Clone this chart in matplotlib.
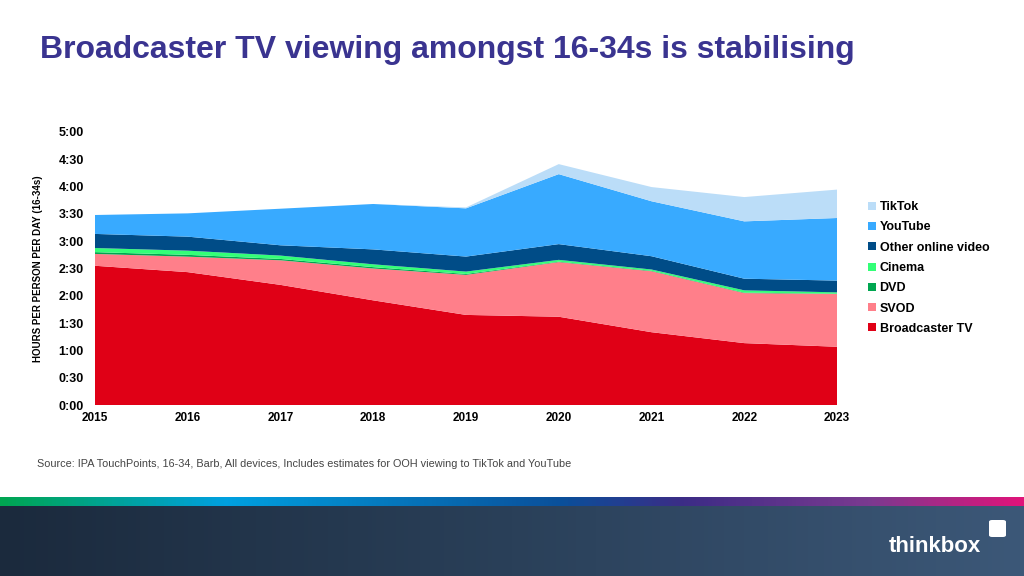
import matplotlib
matplotlib.use("Agg")
import matplotlib.pyplot as plt
import numpy as np
from matplotlib.colors import LinearSegmentedColormap
from matplotlib.patches import FancyBboxPatch

years = [2015, 2016, 2017, 2018, 2019, 2020, 2021, 2022, 2023]
broadcaster_tv = [153, 146, 132, 115, 99, 97, 80, 68, 64]
svod = [13, 17, 27, 35, 44, 60, 67, 55, 58]
dvd = [2, 2, 1.5, 1.5, 1, 0.5, 0.5, 0.5, 0.3]
cinema = [4.5, 4.6, 3.7, 3.1, 2.6, 2, 1.4, 2.5, 1.5]
other_online = [15.5, 15.4, 11.3, 16.4, 16.5, 17.3, 14.6, 12.8, 12.9]
youtube = [20.8, 25.6, 40.2, 49.9, 53, 76.9, 60.4, 63, 68.8]
tiktok = [0, 0, 0, 0, 1, 11, 15.6, 26.7, 31.2]

series_names = ["Broadcaster TV", "SVOD", "DVD", "Cinema", "Other online video", "YouTube", "TikTok"]
series_colors = ["#E00016", "#FF7F8A", "#00A650", "#33FF77", "#004C87", "#38AAFF", "#BBDDF8"]
y_ticks = list(range(0, 301, 30))
y_tick_labels = ["0:00", "0:30", "1:00", "1:30", "2:00", "2:30", "3:00", "3:30", "4:00", "4:30", "5:00"]

fig = plt.figure(figsize=(10.24, 5.76), dpi=100)
fig.patch.set_facecolor("white")

ax = fig.add_axes([95/1024, 1-405/576, (837-95)/1024, (405-132)/576])
data = [broadcaster_tv, svod, dvd, cinema, other_online, youtube, tiktok]
ax.stackplot(years, *data, colors=series_colors, labels=series_names, linewidth=0)
ax.set_xlim(2015, 2023)
ax.set_ylim(0, 300)
ax.set_xticks(years)
ax.set_xticklabels([str(y) for y in years], fontsize=8.5, fontweight="bold", family="Liberation Sans")
ax.set_yticks(y_ticks)
ax.set_yticklabels(y_tick_labels, fontsize=9, fontweight="bold", family="Liberation Sans")
for s in ["top", "right", "left", "bottom"]:
    ax.spines[s].set_visible(False)
ax.tick_params(axis="both", length=0)
ax.tick_params(axis="x", pad=5)
ax.tick_params(axis="y", pad=8)
ax.set_ylabel("HOURS PER PERSON PER DAY (16-34s)", fontsize=7, fontweight="bold",
              family="Liberation Sans", labelpad=11)

handles, labels = ax.get_legend_handles_labels()
leg = fig.legend(handles[::-1], labels[::-1], loc="upper left", bbox_to_anchor=(857/1024, 1-190/576),
                 frameon=False, prop={"family": "Liberation Sans", "weight": "bold", "size": 9},
                 handlelength=0.6, handleheight=0.6, handletextpad=0.3, labelspacing=0.66)

fig.text(40/1024, 1-50/576, "Broadcaster TV viewing amongst 16-34s is stabilising", fontsize=23,
         fontweight="bold", color="#3A3490", family="Liberation Sans", va="center", ha="left")
fig.text(37/1024, 1-464/576, "Source: IPA TouchPoints, 16-34, Barb, All devices, Includes estimates for OOH viewing to TikTok and YouTube",
         fontsize=7.8, color="#444444", family="Liberation Sans", va="center", ha="left")

# gradient strip
strip_cmap = LinearSegmentedColormap.from_list("strip", [(0, "#00A651"), (0.22, "#00A0E0"),
                                                         (0.55, "#0A4F9A"), (0.67, "#3D2C86"),
                                                         (0.85, "#7B3A90"), (1, "#E0147A")])
sax = fig.add_axes([0, 1-506/576, 1, 9/576])
sax.imshow(np.linspace(0, 1, 512)[None, :], aspect="auto", cmap=strip_cmap)
sax.axis("off")

band_cmap = LinearSegmentedColormap.from_list("band", ["#1B2A3D", "#2A4059", "#3C5878"])
bax = fig.add_axes([0, 0, 1, 70/576])
bax.imshow(np.linspace(0, 1, 512)[None, :], aspect="auto", cmap=band_cmap)
bax.axis("off")

fig.text(935/1024, 1-546/576, "thinkbox", fontsize=16, color="white", family="Liberation Sans",
         fontweight="bold", ha="center", va="center")
fig.patches.append(FancyBboxPatch((989/1024, 1-537/576), 17/1024, 17/576,
                                  boxstyle="round,pad=0,rounding_size=0.003",
                                  transform=fig.transFigure, facecolor="white", edgecolor="none"))

fig.savefig("out.png", dpi=100)
